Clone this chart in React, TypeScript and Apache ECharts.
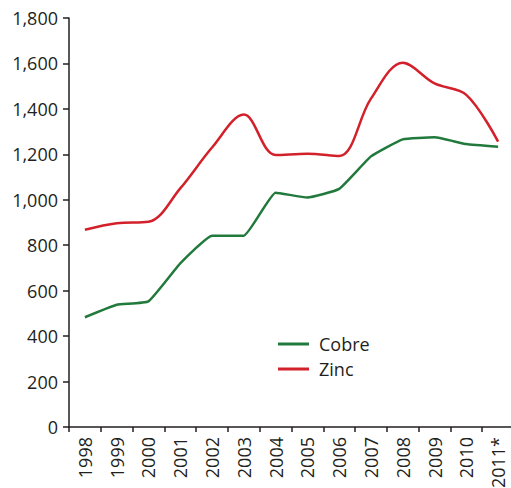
import React, { useEffect, useRef } from "react";
import * as echarts from "echarts";

const years = ["1998", "1999", "2000", "2001", "2002", "2003", "2004", "2005", "2006", "2007", "2008", "2009", "2010", "2011*"];
const cobre = [483, 538, 553, 720, 842, 842, 1031, 1010, 1048, 1191, 1266, 1275, 1245, 1233];
const zinc = [868, 897, 903, 1050, 1230, 1375, 1197, 1203, 1193, 1445, 1603, 1512, 1462, 1256];
const yTicks = { min: 0, max: 1800, interval: 200 };

const FONT = "Open Sans";
const TEXT = "#231f20";

export default function App() {
  const ref = useRef<HTMLDivElement>(null);
  useEffect(() => {
    document.body.style.margin = "0";
    const chart = echarts.init(ref.current!, null, { renderer: "svg" });
    chart.setOption({
      animation: false,
      backgroundColor: "#ffffff",
      textStyle: { fontFamily: FONT, color: TEXT },
      grid: { left: 69, top: 18, width: 445, height: 409, containLabel: false, outerBoundsMode: "none" },
      legend: {
        orient: "vertical",
        left: 278,
        top: 335,
        padding: 0,
        icon: "rect",
        itemWidth: 31,
        itemHeight: 3,
        itemGap: 7,
        textStyle: { fontFamily: FONT, fontSize: 18, color: TEXT, padding: [0, 0, 0, 5] },
        data: ["Cobre", "Zinc"],
      },
      xAxis: {
        type: "category",
        data: years,
        boundaryGap: true,
        axisLine: { lineStyle: { color: TEXT, width: 1.5 } },
        axisTick: { show: true, length: 5, lineStyle: { color: TEXT, width: 1.5 } },
        axisLabel: { rotate: 90, fontFamily: FONT, fontSize: 18, color: TEXT, margin: 10, interval: 0 },
        splitLine: { show: false },
      },
      yAxis: {
        type: "value",
        min: yTicks.min,
        max: yTicks.max,
        interval: yTicks.interval,
        axisLine: { show: true, lineStyle: { color: TEXT, width: 1.5 } },
        axisTick: { show: true, length: 6, lineStyle: { color: TEXT, width: 1.5 } },
        axisLabel: {
          fontFamily: FONT,
          fontSize: 18,
          color: TEXT,
          margin: 11,
          formatter: (v: number) => v.toLocaleString("en-US"),
        },
        splitLine: { show: false },
      },
      series: [
        {
          name: "Cobre",
          type: "line",
          data: cobre,
          symbol: "none",
          smooth: 0.12,
          color: "#217a3c",
          lineStyle: { color: "#217a3c", width: 2.5 },
        },
        {
          name: "Zinc",
          type: "line",
          data: zinc,
          symbol: "none",
          smooth: 0.35,
          color: "#d2212b",
          lineStyle: { color: "#d2212b", width: 2.5 },
        },
      ],
    });
    return () => chart.dispose();
  }, []);
  return <div ref={ref} style={{ position: "absolute", left: 0, top: 0, width: 511, height: 488 }} />;
}
